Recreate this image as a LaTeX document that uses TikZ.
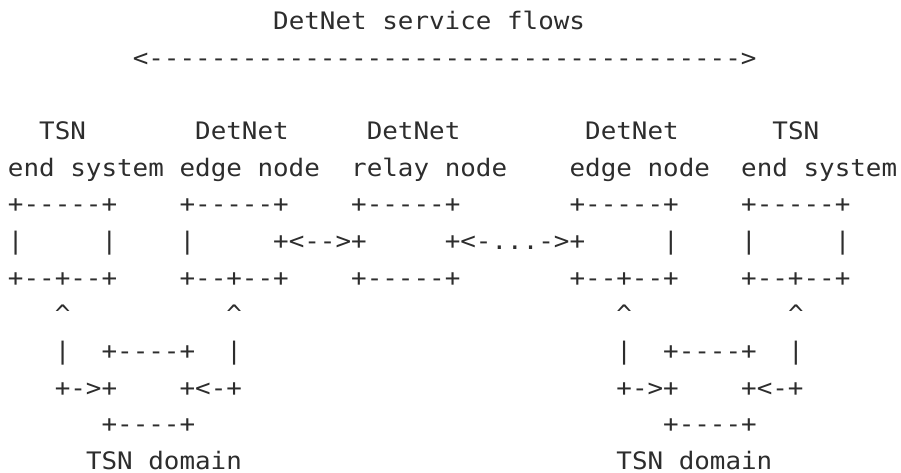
\documentclass[tikz,border=0pt]{standalone}
\usepackage{graphicx}
\usepackage{fontspec}
\newfontfamily\asciimono[Ligatures=TeXOff]{DejaVu Sans Mono}
\definecolor{txt}{RGB}{45,45,45}
\tikzset{
  tok/.style={anchor=base west, inner sep=0pt, outer sep=0pt, text=txt,
    font=\asciimono\fontsize{25.9}{30}\selectfont}
}
\newcommand{\cw}{15.6}
\newcommand{\lx}{8}
\newcommand{\rh}{36.67}
\newcommand{\ty}{29.5}
\newcommand{\dashten}{----------}
\begin{document}
\begin{tikzpicture}[x=1pt,y=1pt]
\fill[white] (0,0) rectangle (901,473);
\useasboundingbox (0,0) rectangle (901,473);
\foreach \c/\r/\t [count=\i] in {
  17/0/{DetNet service flows},
  8/1/{<\dashten\dashten\dashten-------->},
  2/3/{TSN}, 12/3/{DetNet}, 23/3/{DetNet}, 37/3/{DetNet}, 49/3/{TSN},
  0/4/{end system}, 11/4/{edge node}, 22/4/{relay node}, 36/4/{edge node}, 47/4/{end system},
  0/5/{+-----+}, 11/5/{+-----+}, 22/5/{+-----+}, 36/5/{+-----+}, 47/5/{+-----+},
  0/6/{|}, 6/6/{|}, 11/6/{|}, 17/6/{+<-->+}, 28/6/{+<-{.}{.}{.}->+}, 42/6/{|}, 47/6/{|}, 53/6/{|},
  0/7/{+--+--+}, 11/7/{+--+--+}, 22/7/{+-----+}, 36/7/{+--+--+}, 47/7/{+--+--+},
  3/8/{\textasciicircum}, 14/8/{\textasciicircum}, 39/8/{\textasciicircum}, 50/8/{\textasciicircum},
  3/9/{|}, 6/9/{+----+}, 14/9/{|}, 39/9/{|}, 42/9/{+----+}, 50/9/{|},
  3/10/{+->+}, 11/10/{+<-+}, 39/10/{+->+}, 47/10/{+<-+},
  6/11/{+----+}, 42/11/{+----+},
  5/12/{TSN domain}, 39/12/{TSN domain}}
{
  \node[tok] (t\i) at ({\lx+\cw*\c}, {473-\ty-\rh*\r}) {\scalebox{1}[0.93]{\t}};
}
\end{tikzpicture}
\end{document}
